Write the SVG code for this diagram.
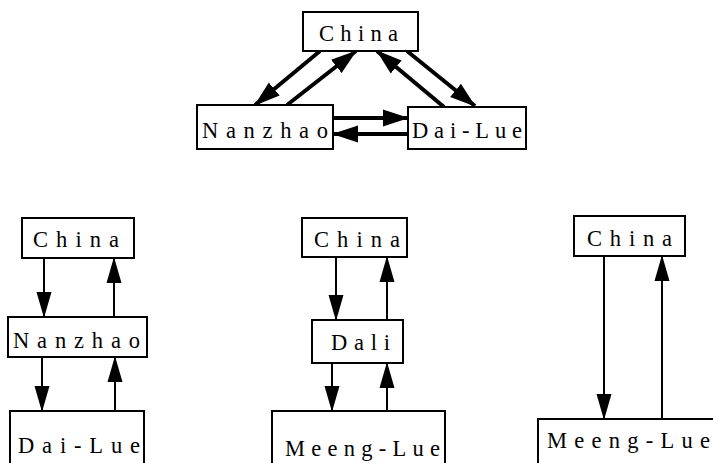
<svg xmlns="http://www.w3.org/2000/svg" width="713" height="463" viewBox="0 0 713 463">
<style>
.box{fill:#fff;stroke:#000;stroke-width:2}
.lbl{font-family:"Liberation Serif",serif;font-size:22.5px;fill:#000}
.e{stroke:#000;fill:none}
.t{stroke-width:4}
.b{stroke-width:2}
</style>
<defs>
<marker id="ah" markerUnits="userSpaceOnUse" markerWidth="26" markerHeight="16" refX="25" refY="7.5" orient="auto" viewBox="0 0 26 15">
<path d="M0,0 L26,7.5 L0,15 z" fill="#000"/>
</marker>
<marker id="ahT" markerUnits="userSpaceOnUse" markerWidth="26" markerHeight="18" refX="25" refY="8.5" orient="auto" viewBox="0 0 26 17">
<path d="M0,0 L26,8.5 L0,17 z" fill="#000"/>
</marker>
</defs>
<rect width="713" height="463" fill="#fff"/>
<g id="connectors">
<line class="e t" x1="320" y1="51" x2="255" y2="105" marker-end="url(#ahT)"/>
<line class="e t" x1="287" y1="105" x2="356" y2="51" marker-end="url(#ahT)"/>
<line class="e t" x1="407" y1="51" x2="475" y2="106" marker-end="url(#ahT)"/>
<line class="e t" x1="444" y1="107" x2="377" y2="51" marker-end="url(#ahT)"/>
<line class="e t" x1="333" y1="118" x2="408" y2="118" marker-end="url(#ahT)"/>
<line class="e t" x1="408" y1="134" x2="333" y2="134" marker-end="url(#ahT)"/>
<line class="e b" x1="44" y1="258" x2="44" y2="317" marker-end="url(#ah)"/>
<line class="e b" x1="114" y1="317" x2="114" y2="258" marker-end="url(#ah)"/>
<line class="e b" x1="42" y1="357" x2="42" y2="411" marker-end="url(#ah)"/>
<line class="e b" x1="115" y1="411" x2="115" y2="357" marker-end="url(#ah)"/>
<line class="e b" x1="336" y1="257" x2="336" y2="320" marker-end="url(#ah)"/>
<line class="e b" x1="387" y1="320" x2="387" y2="257" marker-end="url(#ah)"/>
<line class="e b" x1="332" y1="363" x2="332" y2="411" marker-end="url(#ah)"/>
<line class="e b" x1="387" y1="411" x2="387" y2="363" marker-end="url(#ah)"/>
<line class="e b" x1="604" y1="256" x2="604" y2="419" marker-end="url(#ah)"/>
<line class="e b" x1="662" y1="419" x2="662" y2="256" marker-end="url(#ah)"/>
</g>
<g id="top-china"><rect class="box" x="303" y="12" width="115" height="39"/><text class="lbl" x="319" y="41" textLength="79" lengthAdjust="spacing">China</text></g>
<g id="top-nanzhao"><rect class="box" x="197" y="105" width="136" height="44"/><text class="lbl" x="202" y="138" textLength="126" lengthAdjust="spacing">Nanzhao</text></g>
<g id="top-dailue"><rect class="box" x="408" y="107" width="118" height="42"/><text class="lbl" x="412" y="138" textLength="110" lengthAdjust="spacing">Dai-Lue</text></g>
<g id="left-china"><rect class="box" x="22" y="218" width="112" height="40"/><text class="lbl" x="33" y="247" textLength="86" lengthAdjust="spacing">China</text></g>
<g id="left-nanzhao"><rect class="box" x="8" y="317" width="139" height="40"/><text class="lbl" x="13" y="348" textLength="127" lengthAdjust="spacing">Nanzhao</text></g>
<g id="left-dailue"><rect class="box" x="10" y="411" width="134" height="56"/><text class="lbl" x="18" y="453" textLength="122" lengthAdjust="spacing">Dai-Lue</text></g>
<g id="mid-china"><rect class="box" x="302" y="218" width="105" height="39"/><text class="lbl" x="314" y="247" textLength="86" lengthAdjust="spacing">China</text></g>
<g id="mid-dali"><rect class="box" x="312" y="320" width="91" height="43"/><text class="lbl" x="331" y="350" textLength="59" lengthAdjust="spacing">Dali</text></g>
<g id="mid-meenglue"><rect class="box" x="272" y="411" width="173" height="56"/><text class="lbl" x="285" y="456" textLength="155" lengthAdjust="spacing">Meeng-Lue</text></g>
<g id="right-china"><rect class="box" x="574" y="216" width="111" height="40"/><text class="lbl" x="587" y="246" textLength="85" lengthAdjust="spacing">China</text></g>
<g id="right-meenglue"><rect class="box" x="538" y="419" width="190" height="50"/><text class="lbl" x="547" y="448" textLength="163" lengthAdjust="spacing">Meeng-Lue</text></g>
</svg>
